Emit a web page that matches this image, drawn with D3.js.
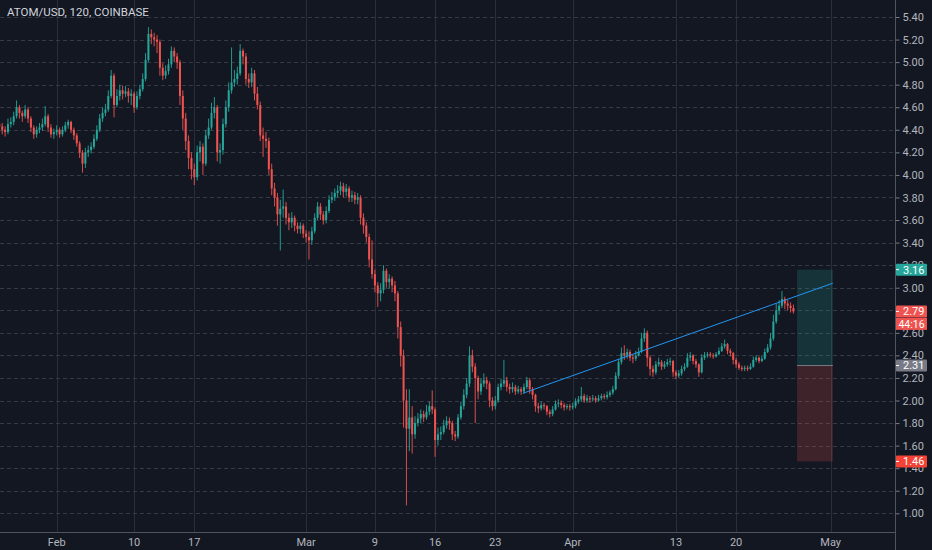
<!DOCTYPE html>
<meta charset="utf-8">
<script src="https://d3js.org/d3.v7.min.js"></script>
<style>
  body { margin: 0; background: #131722; }
  text { font-family: Roboto, "Noto Sans", sans-serif; }
</style>
<div id="chart"></div>
<script>

// ---- data (8h bars, first bar opens 2020-01-25 08:00 UTC) ----
var firstBar = Date.UTC(2020, 0, 25, 8);
var barMs = 8 * 3600 * 1000;
var firstOpen = 4.45;

var closes = [
  4.43, 4.40,                 // Jan 25
  4.38, 4.45, 4.47,  4.52, 4.60, 4.55,  4.52, 4.58, 4.50,  4.42, 4.36, 4.40,
  4.42, 4.45, 4.52,  4.42, 4.36, 4.38,
  4.40, 4.36, 4.40,  4.44, 4.47, 4.40,  4.35, 4.28, 4.20,  4.10, 4.20, 4.22,   // Feb 1-4
  4.25, 4.32, 4.40,  4.50, 4.55, 4.58,  4.70, 4.88, 4.62,  4.70, 4.75, 4.72,
  4.74, 4.70, 4.72,  4.60, 4.70, 4.76,  4.85, 5.02, 5.25,  5.22, 5.20, 5.18,   // Feb 9-12
  4.95, 4.88, 4.92,  4.98, 5.10, 5.05,  5.00, 4.70, 4.50,  4.30, 4.15, 4.05,
  3.98, 4.20, 4.25,  4.10, 4.35, 4.42,  4.55, 4.60, 4.20,  4.22, 4.45, 4.60,   // Feb 17-20
  4.75, 4.82, 4.85,  4.90, 5.10, 5.05,  4.85, 4.82, 4.90,  4.72, 4.62, 4.35,
  4.32, 4.30, 4.05,  3.88, 3.80, 3.65,  3.70, 3.72, 3.62,  3.58, 3.62, 3.55,   // Feb 25-28
  3.52, 3.55, 3.48,
  3.45, 3.42, 3.50,  3.62, 3.72, 3.65,  3.60, 3.68, 3.78,  3.80, 3.84, 3.86,   // Mar 1-4
  3.90, 3.85, 3.88,  3.80, 3.82, 3.78,  3.80, 3.62, 3.55,  3.45, 3.25, 3.12,
  3.02, 2.95, 2.98,  3.15, 3.05, 3.08,  3.02, 2.95, 2.65,  2.40, 2.00, 1.75,   // Mar 9-12
  1.85, 1.70, 1.80,  1.84, 1.88, 1.85,  1.90, 1.95, 1.92,  1.65, 1.70, 1.72,
  1.78, 1.82, 1.80,  1.70, 1.68, 1.85,  1.95, 2.05, 2.15,  2.40, 2.30, 2.20,   // Mar 17-20
  2.08, 2.15, 2.18,  2.15, 2.00, 1.95,  2.00, 2.12, 2.15,  2.18, 2.12, 2.10,
  2.12, 2.08, 2.10,  2.08, 2.12, 2.18,  2.10, 2.05, 1.95,  1.93, 1.96, 1.95,   // Mar 25-28
  1.90, 1.88, 1.92,  1.97, 1.98, 1.96,  1.94, 1.95, 1.94,
  1.95, 1.99, 2.01,  2.04, 2.00, 2.02,  2.01, 2.02, 2.00,  2.02, 2.04, 2.03,   // Apr 1-4
  2.05, 2.07, 2.10,  2.22, 2.34, 2.42,  2.40, 2.43, 2.38,  2.37, 2.40, 2.43,
  2.55, 2.60, 2.38,  2.28, 2.25, 2.32,  2.34, 2.30, 2.32,  2.34, 2.35, 2.25,   // Apr 9-12
  2.22, 2.24, 2.28,  2.30, 2.38, 2.40,  2.35, 2.32, 2.25,  2.38, 2.40, 2.41,
  2.40, 2.39, 2.41,  2.44, 2.48, 2.50,  2.44, 2.42, 2.36,  2.32, 2.29, 2.28,   // Apr 17-20
  2.29, 2.28, 2.30,  2.36, 2.38, 2.35,  2.37, 2.43, 2.47,  2.55, 2.70, 2.80,
  2.84, 2.90, 2.86,  2.84, 2.82, 2.79                                          // Apr 25-26
];

var highs = [
  4.48, 4.46,
  4.43, 4.50, 4.51,  4.56, 4.66, 4.62,  4.57, 4.62, 4.60,  4.52, 4.44, 4.43,
  4.46, 4.50, 4.61,  4.54, 4.45, 4.41,
  4.44, 4.42, 4.43,  4.47, 4.49, 4.48,  4.42, 4.37, 4.30,  4.22, 4.24, 4.26,
  4.29, 4.36, 4.44,  4.54, 4.60, 4.63,  4.75, 4.93, 4.90,  4.76, 4.80, 4.79,
  4.79, 4.77, 4.76,  4.74, 4.74, 4.80,  4.90, 5.08, 5.31,  5.29, 5.26, 5.24,
  5.20, 4.99, 4.97,  5.03, 5.14, 5.13,  5.08, 5.02, 4.75,  4.55, 4.35, 4.20,
  4.10, 4.26, 4.30,  4.28, 4.40, 4.50,  4.64, 4.69, 4.62,  4.28, 4.50, 4.66,
  4.82, 5.13, 4.93,  4.96, 5.16, 5.12,  5.08, 4.90, 4.95,  4.93, 4.78, 4.65,
  4.42, 4.38, 4.33,  4.10, 3.93, 3.84,  3.78, 3.87, 3.76,  3.66, 3.67, 3.64,
  3.58, 3.58, 3.57,
  3.51, 3.50, 3.54,  3.66, 3.76, 3.75,  3.68, 3.72, 3.82,  3.85, 3.88, 3.91,
  3.94, 3.93, 3.92,  3.90, 3.86, 3.85,  3.84, 3.82, 3.66,  3.58, 3.48, 3.42,
  3.16, 3.05, 3.04,  3.20, 3.17, 3.12,  3.10, 3.06, 2.97,  2.70, 2.45, 2.10,
  2.10, 1.95, 1.86,  1.89, 1.92, 1.91,  1.96, 1.99, 2.09,  1.94, 1.76, 1.77,
  1.83, 1.86, 1.85,  1.82, 1.73, 1.88,  1.99, 2.10, 2.20,  2.48, 2.45, 2.33,
  2.22, 2.20, 2.24,  2.21, 2.17, 2.03,  2.04, 2.15, 2.19,  2.36, 2.21, 2.15,
  2.16, 2.14, 2.13,  2.12, 2.15, 2.21,  2.20, 2.12, 2.06,  1.98, 1.99, 1.98,
  1.96, 1.92, 1.95,  2.00, 2.01, 2.00,  1.98, 1.97, 1.97,
  1.98, 2.02, 2.04,  2.12, 2.06, 2.05,  2.04, 2.05, 2.04,  2.05, 2.06, 2.06,
  2.08, 2.09, 2.13,  2.25, 2.37, 2.47,  2.49, 2.46, 2.45,  2.41, 2.44, 2.47,
  2.60, 2.64, 2.62,  2.40, 2.31, 2.35,  2.38, 2.36, 2.35,  2.37, 2.38, 2.36,
  2.27, 2.27, 2.31,  2.33, 2.42, 2.43,  2.41, 2.37, 2.33,  2.41, 2.43, 2.43,
  2.43, 2.42, 2.43,  2.47, 2.51, 2.54,  2.51, 2.46, 2.43,  2.38, 2.34, 2.31,
  2.31, 2.31, 2.33,  2.39, 2.40, 2.39,  2.40, 2.46, 2.50,  2.60, 2.76, 2.86,
  2.89, 2.97, 2.92,  2.89, 2.87, 2.85
];

var lows = [
  4.39, 4.36,
  4.34, 4.36, 4.42,  4.44, 4.50, 4.50,  4.47, 4.50, 4.46,  4.38, 4.32, 4.33,
  4.37, 4.39, 4.43,  4.38, 4.33, 4.32,
  4.35, 4.33, 4.34,  4.38, 4.41, 4.37,  4.31, 4.25, 4.15,  4.02, 4.06, 4.16,
  4.19, 4.23, 4.30,  4.38, 4.47, 4.52,  4.56, 4.68, 4.51,  4.60, 4.66, 4.67,
  4.69, 4.64, 4.62,  4.55, 4.58, 4.67,  4.74, 4.83, 5.00,  5.16, 5.14, 5.08,
  4.88, 4.84, 4.85,  4.89, 4.95, 5.00,  4.94, 4.62, 4.40,  4.22, 4.05, 3.96,
  3.91, 3.95, 4.12,  4.00, 4.08, 4.32,  4.40, 4.50, 4.12,  4.10, 4.18, 4.42,
  4.56, 4.72, 4.78,  4.80, 4.88, 4.98,  4.80, 4.77, 4.78,  4.66, 4.58, 4.30,
  4.16, 4.24, 4.00,  3.82, 3.72, 3.55,  3.33, 3.62, 3.56,  3.51, 3.53, 3.50,
  3.48, 3.48, 3.44,
  3.40, 3.25, 3.38,  3.48, 3.60, 3.60,  3.56, 3.57, 3.66,  3.75, 3.77, 3.80,
  3.82, 3.80, 3.81,  3.76, 3.76, 3.74,  3.74, 3.56, 3.48,  3.40, 3.18, 3.08,
  2.96, 2.83, 2.88,  2.95, 3.00, 2.99,  2.96, 2.88, 2.55,  2.30, 1.76, 1.07,
  1.55, 1.53, 1.66,  1.77, 1.80, 1.81,  1.83, 1.87, 1.88,  1.50, 1.60, 1.65,
  1.70, 1.75, 1.74,  1.65, 1.64, 1.66,  1.83, 1.92, 2.02,  2.12, 2.25, 1.80,
  2.01, 2.05, 2.12,  2.10, 1.94, 1.91,  1.92, 1.98, 2.09,  2.12, 2.08, 2.06,
  2.07, 2.05, 2.06,  2.05, 2.06, 2.10,  2.06, 2.01, 1.90,  1.89, 1.91, 1.92,
  1.87, 1.85, 1.86,  1.91, 1.94, 1.93,  1.91, 1.92, 1.91,
  1.92, 1.93, 1.97,  1.99, 1.98, 1.98,  1.98, 1.99, 1.98,  1.99, 2.00, 2.01,
  2.01, 2.03, 2.05,  2.09, 2.20, 2.32,  2.36, 2.37, 2.35,  2.33, 2.35, 2.39,
  2.42, 2.52, 2.30,  2.22, 2.21, 2.23,  2.30, 2.27, 2.28,  2.30, 2.31, 2.21,
  2.19, 2.20, 2.22,  2.26, 2.29, 2.35,  2.32, 2.29, 2.21,  2.24, 2.36, 2.38,
  2.38, 2.37, 2.38,  2.40, 2.43, 2.46,  2.41, 2.39, 2.32,  2.29, 2.27, 2.26,
  2.26, 2.26, 2.27,  2.29, 2.34, 2.33,  2.34, 2.36, 2.42,  2.45, 2.53, 2.68,
  2.76, 2.82, 2.81,  2.80, 2.78, 2.77
];

// axis ticks
var dateTicks = [
  Date.UTC(2020, 1, 1), Date.UTC(2020, 1, 10), Date.UTC(2020, 1, 17),
  Date.UTC(2020, 2, 1), Date.UTC(2020, 2, 9), Date.UTC(2020, 2, 16),
  Date.UTC(2020, 2, 23), Date.UTC(2020, 3, 1), Date.UTC(2020, 3, 13),
  Date.UTC(2020, 3, 20), Date.UTC(2020, 4, 1)
];
var dateLabels = ["Feb", "10", "17", "Mar", "9", "16", "23", "Apr", "13", "20", "May"];
var priceTicks = [1.0, 1.2, 1.4, 1.6, 1.8, 2.0, 2.2, 2.4, 2.6, 2.8, 3.0, 3.2,
                  3.4, 3.6, 3.8, 4.0, 4.2, 4.4, 4.6, 4.8, 5.0, 5.2, 5.4];

// drawings: trend line and long position (target / entry / stop)
var trendStart = [Date.UTC(2020, 2, 26, 5), 2.064];
var trendEnd = [Date.UTC(2020, 4, 1, 6), 3.04];
var posStart = Date.UTC(2020, 3, 27, 2);
var posEnd = Date.UTC(2020, 4, 1, 6);
var target = 3.16, entry = 2.31, stop = 1.46, lastPrice = 2.79;
var countdown = "44:16";

// ---- layout ----
var W = 932, H = 550;
var plotRight = 895, plotBottom = 532;

var svg = d3.select("#chart")
  .append("svg")
    .attr("width", W)
    .attr("height", H)
    .style("display", "block")
    .style("background", "#131722");

var x = d3.scaleUtc()
  .domain([Date.UTC(2020, 1, 1), Date.UTC(2020, 4, 1)])
  .range([56.7, 830.7]);

var y = d3.scaleLinear()
  .domain([1.0, 5.4])
  .range([513.3, 17]);

svg.append("clipPath").attr("id", "plotclip")
  .append("rect").attr("x", 0).attr("y", 0)
  .attr("width", plotRight).attr("height", plotBottom);

// grid
var grid = svg.append("g");
grid.selectAll(".vg")
  .data(dateTicks)
  .enter().append("line")
    .attr("x1", function(d) { return Math.round(x(d)) + 0.5; })
    .attr("x2", function(d) { return Math.round(x(d)) + 0.5; })
    .attr("y1", 0)
    .attr("y2", plotBottom)
    .attr("stroke", "#2a2e39");
grid.selectAll(".hg")
  .data(priceTicks)
  .enter().append("line")
    .attr("x1", 0)
    .attr("x2", plotRight)
    .attr("y1", function(d) { return Math.round(y(d)) + 0.5; })
    .attr("y2", function(d) { return Math.round(y(d)) + 0.5; })
    .attr("stroke", "#363a45")
    .attr("stroke-dasharray", "4,3");

// position boxes
var plot = svg.append("g").attr("clip-path", "url(#plotclip)");
plot.append("rect")
  .attr("x", x(posStart)).attr("width", x(posEnd) - x(posStart))
  .attr("y", y(target)).attr("height", y(entry) - y(target))
  .attr("fill", "#26a69a").attr("fill-opacity", 0.2);
plot.append("rect")
  .attr("x", x(posStart)).attr("width", x(posEnd) - x(posStart))
  .attr("y", y(entry)).attr("height", y(stop) - y(entry))
  .attr("fill", "#ef5350").attr("fill-opacity", 0.2);
plot.append("line")
  .attr("x1", x(posStart)).attr("x2", x(posEnd))
  .attr("y1", y(entry)).attr("y2", y(entry))
  .attr("stroke", "#787b86").attr("stroke-width", 1);

// candles
var bars = closes.map(function(c, i) {
  return {
    t: firstBar + i * barMs,
    o: i === 0 ? firstOpen : closes[i - 1],
    h: highs[i], l: lows[i], c: c
  };
});

var candle = plot.append("g").selectAll("g")
  .data(bars)
  .enter().append("g")
    .attr("fill", function(d) { return d.c >= d.o ? "#26a69a" : "#ef5350"; })
    .attr("stroke", function(d) { return d.c >= d.o ? "#26a69a" : "#ef5350"; });

candle.append("line")
  .attr("x1", function(d) { return x(d.t); })
  .attr("x2", function(d) { return x(d.t); })
  .attr("y1", function(d) { return y(d.h); })
  .attr("y2", function(d) { return y(d.l); })
  .attr("stroke-width", 0.9);

candle.append("rect")
  .attr("x", function(d) { return x(d.t) - 1; })
  .attr("width", 2)
  .attr("y", function(d) { return y(Math.max(d.o, d.c)); })
  .attr("height", function(d) { return Math.max(0.8, Math.abs(y(d.o) - y(d.c))); })
  .attr("stroke", "none");

// trend line
plot.append("line")
  .attr("x1", x(trendStart[0])).attr("y1", y(trendStart[1]))
  .attr("x2", x(trendEnd[0])).attr("y2", y(trendEnd[1]))
  .attr("stroke", "#2196f3")
  .attr("stroke-width", 1);

// bottom time axis
svg.append("line")
  .attr("x1", 0).attr("x2", plotRight)
  .attr("y1", plotBottom + 0.5).attr("y2", plotBottom + 0.5)
  .attr("stroke", "#50535e");
svg.selectAll(".dl")
  .data(dateTicks)
  .enter().append("text")
    .attr("x", function(d) { return x(d); })
    .attr("y", 546)
    .attr("text-anchor", "middle")
    .attr("fill", "#b2b5be")
    .style("font-size", "11px")
    .text(function(d, i) { return dateLabels[i]; });

// right price axis
svg.append("line")
  .attr("x1", plotRight + 0.5).attr("x2", plotRight + 0.5)
  .attr("y1", 0).attr("y2", H)
  .attr("stroke", "#50535e");

var yAxis = svg.append("g")
  .attr("transform", "translate(" + (plotRight + 0.5) + ",0)")
  .call(d3.axisRight(y).tickValues(priceTicks).tickFormat(d3.format(".2f"))
    .tickSize(4).tickPadding(3));
yAxis.select(".domain").remove();
yAxis.selectAll("line").attr("stroke", "#787b86");
yAxis.selectAll("text")
  .attr("fill", "#b2b5be")
  .style("font-size", "11px")
  .style("font-family", "Roboto, 'Noto Sans', sans-serif");

// price tags on the scale
function tag(yc, color, label) {
  var g = svg.append("g");
  g.append("rect")
    .attr("x", plotRight + 1).attr("y", yc - 6)
    .attr("width", 31).attr("height", 12)
    .attr("rx", 1)
    .attr("fill", color);
  g.append("line")
    .attr("x1", plotRight + 1).attr("x2", plotRight + 4)
    .attr("y1", yc).attr("y2", yc)
    .attr("stroke", "#ffffff");
  g.append("text")
    .attr("x", plotRight + 8).attr("y", yc)
    .attr("dy", "0.35em")
    .attr("fill", "#ffffff")
    .style("font-size", "11px")
    .text(label);
}
tag(y(target), "#26a69a", d3.format(".2f")(target));
tag(y(lastPrice), "#ef5350", d3.format(".2f")(lastPrice));
tag(y(entry), "#787b86", d3.format(".2f")(entry));
tag(y(stop), "#f44336", d3.format(".2f")(stop));

// bar countdown under the last price
svg.append("rect")
  .attr("x", plotRight + 1).attr("y", y(lastPrice) + 6.5)
  .attr("width", 31).attr("height", 12)
  .attr("fill", "#ef5350");
svg.append("text")
  .attr("x", plotRight + 16.5).attr("y", y(lastPrice) + 12.5)
  .attr("dy", "0.35em")
  .attr("text-anchor", "middle")
  .attr("fill", "#ffffff")
  .style("font-size", "10.5px")
  .text(countdown);

// symbol title
svg.append("text")
  .attr("x", 7)
  .attr("y", 16)
  .attr("fill", "#d1d4dc")
  .style("font-size", "11.5px")
  .text("ATOM/USD, 120, COINBASE");

</script>
